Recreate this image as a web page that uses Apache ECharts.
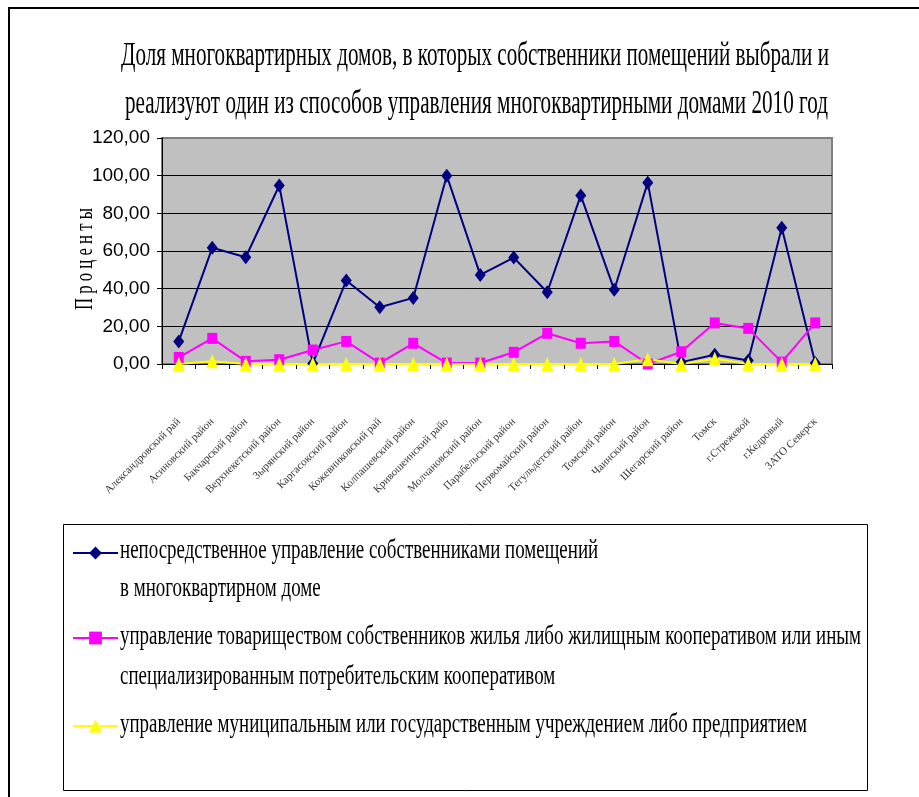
<!DOCTYPE html>
<html><head><meta charset="utf-8">
<script src="https://cdn.jsdelivr.net/npm/echarts@6/dist/echarts.min.js"></script>
<style>html,body{margin:0;padding:0;background:#fff}#c{width:919px;height:797px}</style>
</head><body><div id="c"></div>
<script>
const titleLines = [
  'Доля многоквартирных домов, в которых собственники помещений выбрали и',
  'реализуют один из способов управления многоквартирными домами 2010 год'
];
const yAxisTitle = 'П р о ц е н т ы';
const categories = [
  'Александровский район', 'Асиновский район', 'Бакчарский район', 'Верхнекетский район',
  'Зырянский район', 'Каргасокский район', 'Кожевниковский район', 'Колпашевский район',
  'Кривошеинский район', 'Молчановский район', 'Парабельский район', 'Первомайский район',
  'Тегульдетский район', 'Томский район', 'Чаинский район', 'Шегарский район',
  'Томск', 'г.Стрежевой', 'г.Кедровый', 'ЗАТО Северск'
];
const seriesNames = [
  'непосредственное управление собственниками помещений в многоквартирном доме',
  'управление товариществом собственников жилья либо жилищным кооперативом или иным специализированным потребительским кооперативом',
  'управление муниципальным или государственным учреждением либо предприятием'
];
const legendLines = [
  ['непосредственное управление собственниками помещений', 'в многоквартирном доме'],
  ['управление товариществом собственников жилья либо жилищным кооперативом или иным', 'специализированным потребительским кооперативом'],
  ['управление муниципальным или государственным учреждением либо предприятием']
];
const directValues    = [12.0, 61.7, 56.7, 94.8, 0.3, 44.3, 30.1, 35.1, 100.0, 47.3, 56.5, 38.1, 89.5, 39.4, 96.3, 1.0, 4.9, 1.8, 72.3, 0.5];
const hoaValues       = [3.5, 13.6, 1.4, 2.3, 7.4, 12.0, 0.5, 11.0, 0.5, 0.5, 6.2, 16.3, 11.0, 12.0, 0.0, 6.5, 21.8, 18.9, 1.0, 21.8];
const municipalValues = [0, 1.5, 0, 0, 0, 0, 0, 0, 0, 0, 0, 0, 0, 0, 2.5, 0, 2.8, 0, 0, 0];
const yTickLabels = ['0,00', '20,00', '40,00', '60,00', '80,00', '100,00', '120,00'];

const SERIF = "'Liberation Serif','Times New Roman',serif";
const SANS = "'Liberation Sans',Arial,sans-serif";
const mctx = document.createElement('canvas').getContext('2d');
function textWidth(text, size) { mctx.font = size + 'px ' + SERIF; return mctx.measureText(text).width; }
// visually clip a category label to the width available under the axis (as in the source chart)
function clipLabel(text, size, maxW) {
  let t = text;
  while (t.length > 1 && textWidth(t, size) > maxW) t = t.slice(0, -1);
  return t;
}

function scaledText(text, x, y, size, scaleX, align, rotation) {
  return {
    type: 'text', x: x, y: y, scaleX: scaleX, scaleY: 1, rotation: rotation || 0,
    style: {
      text: text, fontSize: size, fontFamily: SERIF, font: size + 'px ' + SERIF,
      fill: '#000', textAlign: align, align: align,
      textVerticalAlign: 'middle', verticalAlign: 'middle'
    }
  };
}

const graphics = [];
graphics.push({ type: 'rect', shape: { x: 9, y: 8, width: 980, height: 900 }, style: { fill: 'none', stroke: '#000', lineWidth: 2 }, silent: true });
graphics.push({ type: 'rect', shape: { x: 63.5, y: 524.5, width: 804, height: 266 }, style: { fill: 'none', stroke: '#000', lineWidth: 1 }, silent: true });
const TS = 34;
graphics.push(scaledText(titleLines[0], 475, 56, TS, 708 / textWidth(titleLines[0], TS), 'center'));
graphics.push(scaledText(titleLines[1], 476.5, 104, TS, 703 / textWidth(titleLines[1], TS), 'center'));
const YS = 26;
graphics.push(scaledText(yAxisTitle, 85, 259, YS, 102 / textWidth(yAxisTitle, YS), 'center', Math.PI / 2));
const LS = 28;
const lScale = 741 / textWidth(legendLines[1][0], LS);
const legendTextY = [[551, 589], [637, 677], [725]];
legendLines.forEach((lines, i) => lines.forEach((t, j) => {
  graphics.push(scaledText(t, 120, legendTextY[i][j], LS, lScale, 'left'));
}));

const colors = ['#000080', '#FF00FF', '#FFFF00'];
const symbols = ['diamond', 'rect', 'triangle'];
const symbolSizes = [[11, 14], [10, 11], [12, 14]];
const values = [directValues, hoaValues, municipalValues];
const legendTops = [545, 630, 718];

const chart = echarts.init(document.getElementById('c'), null, { renderer: 'canvas' });
chart.setOption({
  animation: false,
  backgroundColor: '#fff',
  grid: {
    left: 162, right: 87, top: 138, bottom: 433,
    show: true, backgroundColor: '#C0C0C0', borderColor: '#808080', borderWidth: 2,
    containLabel: false, outerBoundsMode: 'none'
  },
  legend: seriesNames.map((n, i) => ({
    data: [n], left: 72, top: legendTops[i], orient: 'horizontal',
    itemWidth: 45, itemHeight: 16, padding: 0, itemGap: 0,
    selectedMode: false, formatter: () => '', textStyle: { fontSize: 1 }
  })),
  xAxis: {
    type: 'category', data: categories, boundaryGap: true,
    axisLine: { show: true, lineStyle: { color: '#000', width: 1 } },
    axisTick: { show: true, length: 5, lineStyle: { color: '#000' } },
    axisLabel: {
      interval: 0, rotate: 45, margin: 56, fontFamily: SERIF, fontSize: 11, color: '#333',
      formatter: v => clipLabel(v, 11, 103)
    },
    splitLine: { show: false }
  },
  yAxis: {
    type: 'value', min: 0, max: 120, interval: 20,
    axisLine: { show: true, lineStyle: { color: '#000', width: 1 } },
    axisTick: { show: true, length: 5, inside: false, lineStyle: { color: '#000' } },
    axisLabel: {
      margin: 12, fontFamily: SANS, fontSize: 19, color: '#000',
      formatter: v => yTickLabels[Math.round(v / 20)]
    },
    splitLine: { show: true, showMaxLine: false, lineStyle: { color: '#000', width: 1 } }
  },
  series: seriesNames.map((n, i) => ({
    name: n, type: 'line', data: values[i],
    symbol: symbols[i], symbolSize: symbolSizes[i], showAllSymbol: true,
    lineStyle: { color: colors[i], width: 2 },
    itemStyle: { color: colors[i], borderWidth: 0 },
    emphasis: { disabled: true }
  })),
  graphic: graphics
});
</script>
</body></html>
